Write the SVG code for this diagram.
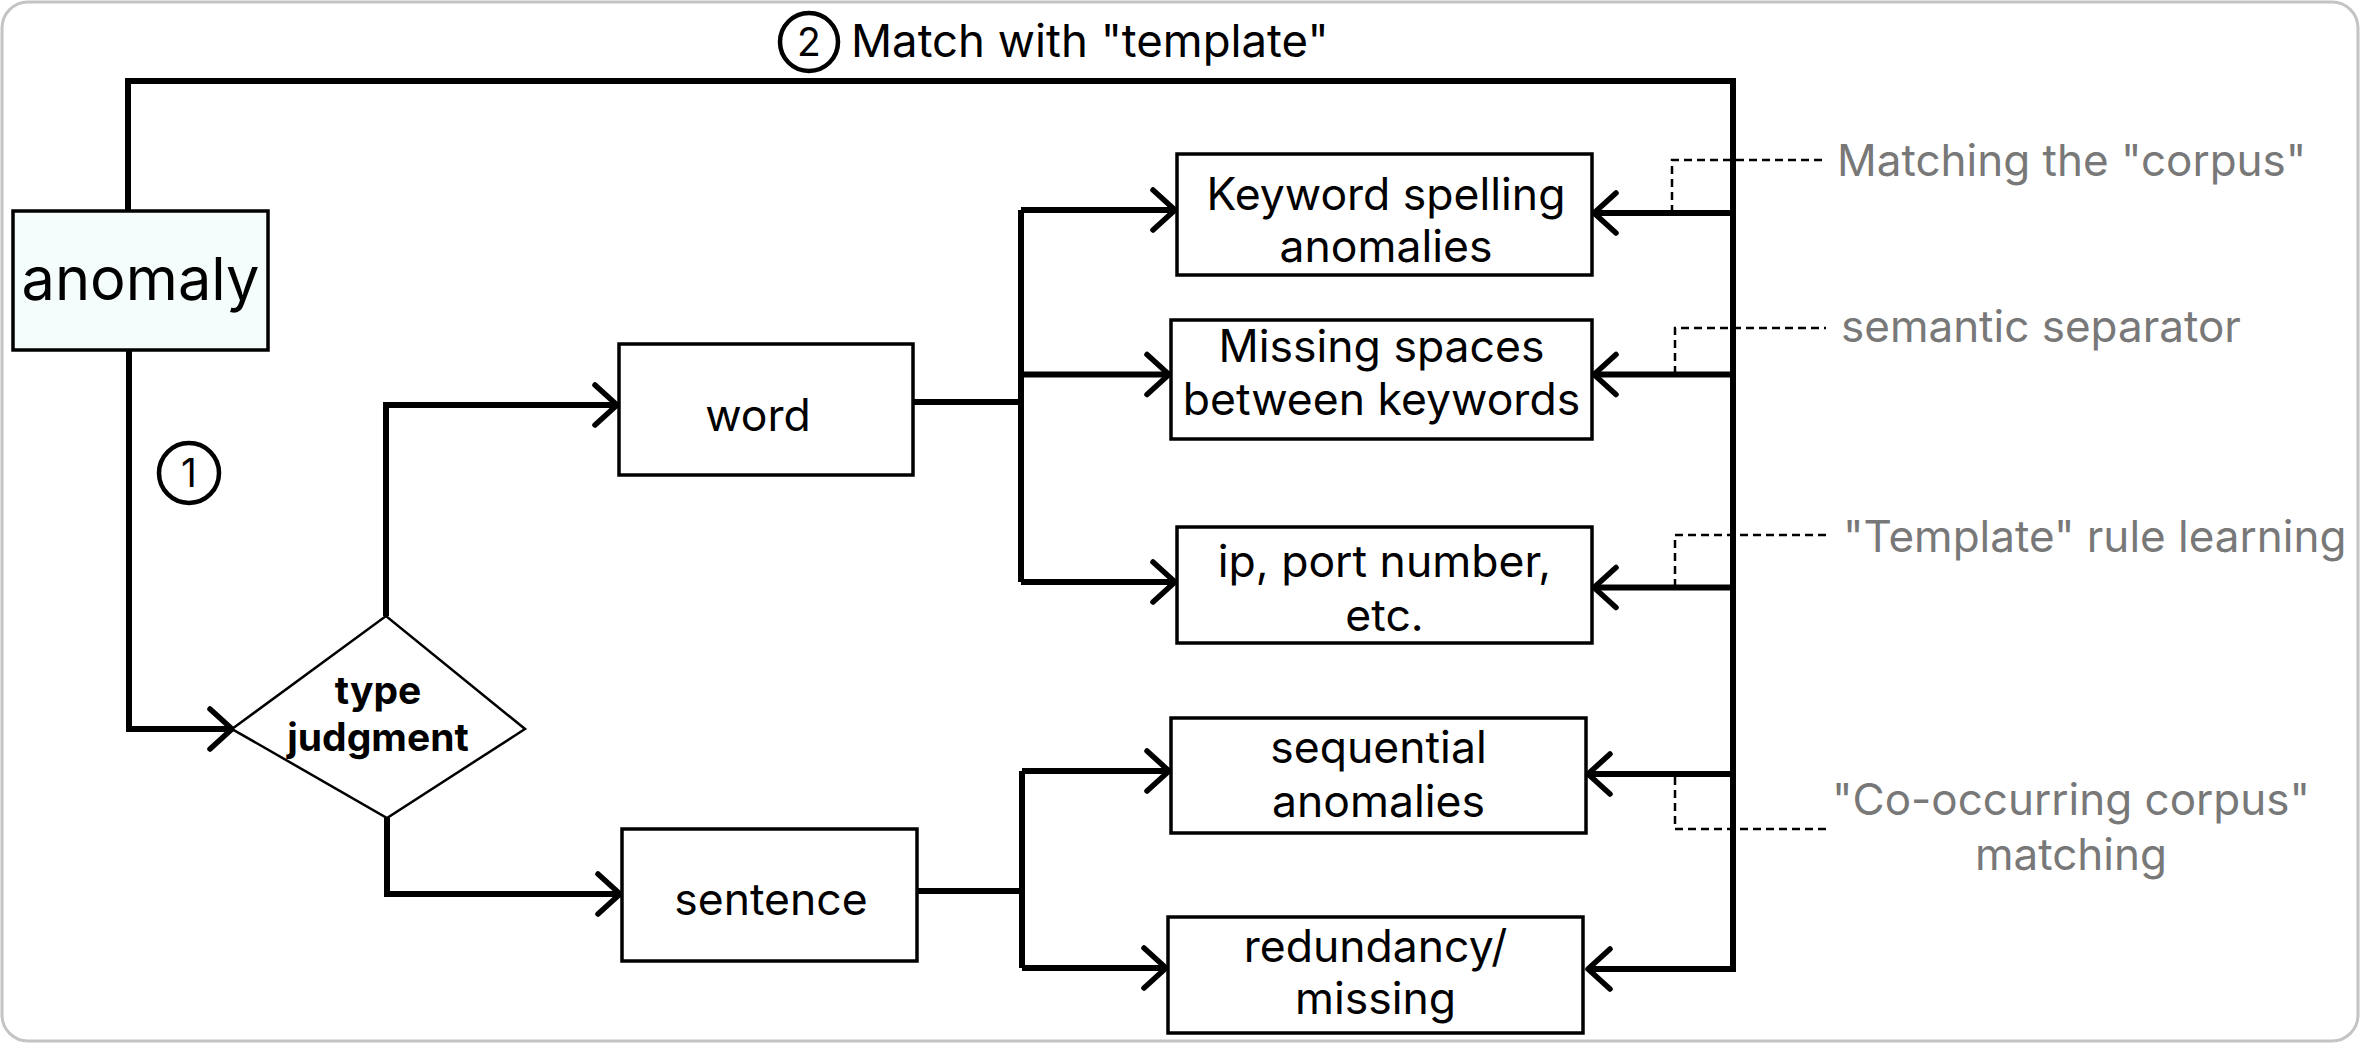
<svg xmlns="http://www.w3.org/2000/svg" width="2361" height="1044" viewBox="0 0 2361 1044">
<defs>
<marker id="arr" markerWidth="32" markerHeight="50" refX="27" refY="25" orient="auto" markerUnits="userSpaceOnUse" viewBox="0 0 32 50">
<path d="M5 5 L27 25 L5 45" fill="none" stroke="#000" stroke-width="5.5" stroke-linecap="round" stroke-linejoin="round"/>
</marker>
<style>
.frame{fill:#fff;stroke:#c4c4c4;stroke-width:3}
.box{fill:#fff;stroke:#000;stroke-width:3.5}
.dia{fill:#fff;stroke:#000;stroke-width:2.5}
.circ{fill:none;stroke:#000;stroke-width:4.5}
.conn{fill:none;stroke:#000;stroke-width:6}
.conn-a{fill:none;stroke:#000;stroke-width:6;marker-end:url(#arr)}
.dash{fill:none;stroke:#000;stroke-width:2.5;stroke-dasharray:8 5}
text{font-family:Inter,"Liberation Sans",sans-serif;fill:#000}
.t{font-size:44.5px;text-anchor:middle}
.note{font-size:44px;fill:#787878}
.num{font-size:39px;text-anchor:middle}
</style>
</defs>
<rect class="frame" x="2" y="2" width="2356" height="1039" rx="26"/>

<g id="connectors">
<path class="conn-a" d="M128 211 V81 H1733 V969 H1588"/>
<path class="conn-a" d="M1733 213 H1594"/>
<path class="conn-a" d="M1733 374.5 H1594"/>
<path class="conn-a" d="M1733 587.5 H1594"/>
<path class="conn-a" d="M1733 774 H1588"/>
<path class="conn-a" d="M129 350 V729 H232"/>
<path class="conn-a" d="M386 616 V405 H617"/>
<path class="conn-a" d="M387 818 V894 H620"/>
<path class="conn" d="M913 402 H1021"/>
<path class="conn" d="M1021 210 V582"/>
<path class="conn-a" d="M1021 210 H1175"/>
<path class="conn-a" d="M1021 374.5 H1169"/>
<path class="conn-a" d="M1021 582 H1175"/>
<path class="conn" d="M917 891 H1022"/>
<path class="conn" d="M1022 771 V968"/>
<path class="conn-a" d="M1022 771 H1169"/>
<path class="conn-a" d="M1022 968 H1166"/>
<path class="dash" d="M1672 213 V160 H1826"/>
<path class="dash" d="M1675 374 V328 H1826"/>
<path class="dash" d="M1675 587 V535 H1826"/>
<path class="dash" d="M1675 777 V829 H1829"/>
</g>

<g id="label-match">
<circle class="circ" cx="809" cy="42" r="29"/>
<text class="num" x="809" y="56">2</text>
<text x="851" y="57" style="font-size:45.5px">Match with "template"</text>
</g>

<g id="label-step1">
<circle class="circ" cx="189" cy="473" r="30"/>
<text class="num" x="189" y="487">1</text>
</g>

<g id="node-anomaly">
<rect x="13" y="211" width="255" height="139" fill="#f5fcfc" stroke="#000" stroke-width="3.5"/>
<text x="140.5" y="300" style="font-size:59.5px;text-anchor:middle">anomaly</text>
</g>

<g id="node-type">
<polygon class="dia" points="232,729 386,616 525,729 387,818"/>
<text x="378" y="704" style="font-size:39px;font-weight:700;text-anchor:middle">type</text>
<text x="378" y="751" style="font-size:39px;font-weight:700;text-anchor:middle">judgment</text>
</g>

<g id="node-word">
<rect class="box" x="619" y="344" width="294" height="131"/>
<text class="t" x="758" y="431">word</text>
</g>

<g id="node-sentence">
<rect class="box" x="622" y="829" width="295" height="132"/>
<text class="t" x="771" y="915">sentence</text>
</g>

<g id="node-keyword">
<rect class="box" x="1177" y="154" width="415" height="121"/>
<text class="t" x="1386" y="210">Keyword spelling</text>
<text class="t" x="1386" y="262">anomalies</text>
</g>

<g id="node-missing">
<rect class="box" x="1171" y="320" width="421" height="119"/>
<text class="t" x="1381.5" y="362">Missing spaces</text>
<text class="t" x="1381.5" y="415">between keywords</text>
</g>

<g id="node-ip">
<rect class="box" x="1177" y="527" width="415" height="116"/>
<text class="t" x="1384.5" y="577">ip, port number,</text>
<text class="t" x="1384.5" y="631">etc.</text>
</g>

<g id="node-sequential">
<rect class="box" x="1171" y="718" width="415" height="115"/>
<text class="t" x="1378.5" y="763">sequential</text>
<text class="t" x="1378.5" y="817">anomalies</text>
</g>

<g id="node-redundancy">
<rect class="box" x="1168" y="917" width="415" height="116"/>
<text class="t" x="1375.5" y="962">redundancy/</text>
<text class="t" x="1375.5" y="1014">missing</text>
</g>

<g id="note-corpus">
<text class="note" x="1837" y="176">Matching the "corpus"</text>
</g>
<g id="note-separator">
<text class="note" x="1841" y="342">semantic separator</text>
</g>
<g id="note-template">
<text class="note" x="1843" y="552">"Template" rule learning</text>
</g>
<g id="note-cooccur">
<text class="note" x="2071" y="815" text-anchor="middle">"Co-occurring corpus"</text>
<text class="note" x="2071" y="870" text-anchor="middle">matching</text>
</g>
</svg>
